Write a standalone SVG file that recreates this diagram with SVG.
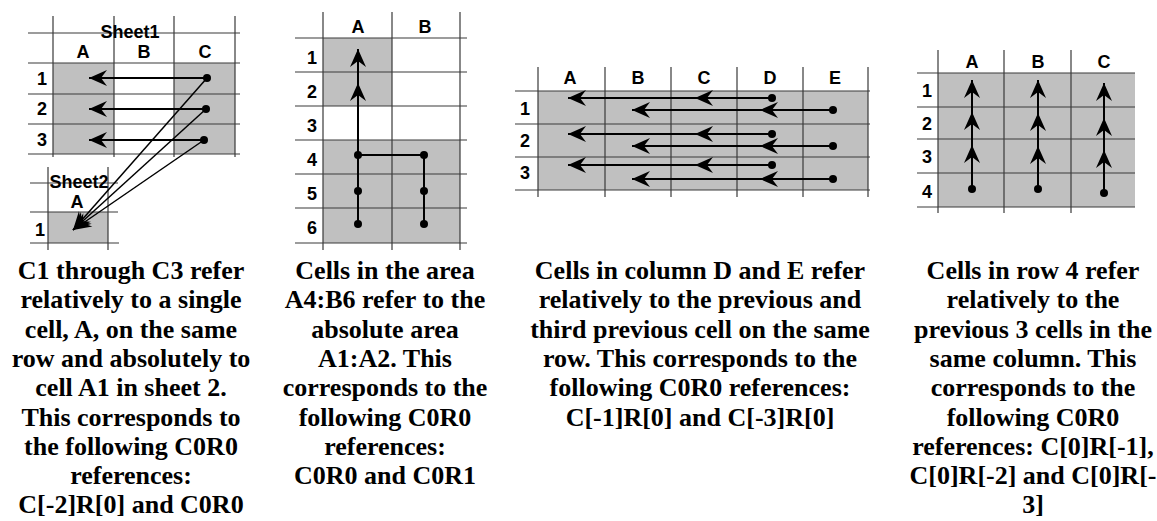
<svg xmlns="http://www.w3.org/2000/svg" width="1157" height="521" viewBox="0 0 1157 521">
<style>
.bg{fill:#ffffff}
.cell{fill:#c0c0c0}
.grid{stroke:#3a3a3a;stroke-width:1.2;fill:none}
.lbl{font-family:"Liberation Sans",Arial,sans-serif;font-weight:bold;font-size:18px;fill:#000;text-anchor:middle}
.cap{font-family:"Liberation Serif","Times New Roman",serif;font-weight:bold;font-size:26px;fill:#000;text-anchor:middle}
.ar{stroke:#000;stroke-width:2;fill:none;marker-end:url(#ah)}
.ard{stroke:#000;stroke-width:1.5;fill:none;marker-end:url(#ah)}
.ln{stroke:#000;stroke-width:2;fill:none}
.dot{fill:#000}
</style>
<defs>
<marker id="ah" markerUnits="userSpaceOnUse" markerWidth="20" markerHeight="18" viewBox="-19 -9 20 18" refX="0" refY="0" orient="auto">
<path d="M0,0 L-18,-8 L-12,0 L-18,8 Z" fill="#000"/>
</marker>
</defs>
<rect class="bg" x="0" y="0" width="1157" height="521"/>

<!-- Panel 1: Sheet1 -->
<g id="sheet1">
<rect class="cell" x="53" y="63" width="61" height="91"/>
<rect class="cell" x="174" y="63" width="61" height="91"/>
<path class="grid" d="M28,33H240M28,63H240M28,94H240M28,124H240M28,154H240M53,16V157M114,16V157M174,16V157M235,16V157"/>
<text class="lbl" x="130" y="38">Sheet1</text>
<text class="lbl" x="83" y="58">A</text>
<text class="lbl" x="144" y="58">B</text>
<text class="lbl" x="205" y="58">C</text>
<text class="lbl" x="42" y="85">1</text>
<text class="lbl" x="42" y="115">2</text>
<text class="lbl" x="42" y="146">3</text>
</g>
<g id="sheet2">
<rect class="cell" x="48" y="212" width="60" height="31"/>
<path class="grid" d="M30,183H118M30,212H118M30,243H119M48,167V250M108,167V250"/>
<text class="lbl" x="79" y="188">Sheet2</text>
<text class="lbl" x="77" y="208">A</text>
<text class="lbl" x="40" y="236">1</text>
</g>

<!-- Panel 2 -->
<g id="panel2">
<rect class="cell" x="323" y="38" width="69" height="68"/>
<rect class="cell" x="323" y="140" width="137" height="103"/>
<path class="grid" d="M295,38H467M295,72H467M295,106H467M295,140H467M295,174H467M295,208H467M295,243H467M323,12V250M392,12V250M460,12V250"/>
<text class="lbl" x="358" y="33">A</text>
<text class="lbl" x="425" y="33">B</text>
<text class="lbl" x="312" y="64">1</text>
<text class="lbl" x="312" y="98">2</text>
<text class="lbl" x="312" y="132">3</text>
<text class="lbl" x="312" y="166">4</text>
<text class="lbl" x="312" y="200">5</text>
<text class="lbl" x="312" y="234">6</text>
</g>

<!-- Panel 3 -->
<g id="panel3">
<rect class="cell" x="538" y="91" width="330" height="99"/>
<path class="grid" d="M515,91H870M515,124H870M515,157H870M515,190H870M538,67V197M605,67V197M671,67V197M737,67V197M803,67V197M868,67V197"/>
<text class="lbl" x="570" y="84">A</text>
<text class="lbl" x="638" y="84">B</text>
<text class="lbl" x="704" y="84">C</text>
<text class="lbl" x="770" y="84">D</text>
<text class="lbl" x="835" y="84">E</text>
<text class="lbl" x="525" y="115">1</text>
<text class="lbl" x="525" y="147">2</text>
<text class="lbl" x="525" y="179">3</text>
</g>

<!-- Panel 4 -->
<g id="panel4">
<rect class="cell" x="938" y="73" width="197" height="134"/>
<path class="grid" d="M917,73H1135M917,107H1135M917,139H1135M917,173H1135M917,207H1135M938,50V213M1004,50V213M1071,50V213"/>
<text class="lbl" x="972" y="68">A</text>
<text class="lbl" x="1038" y="68">B</text>
<text class="lbl" x="1104" y="68">C</text>
<text class="lbl" x="927" y="97">1</text>
<text class="lbl" x="927" y="130">2</text>
<text class="lbl" x="927" y="163">3</text>
<text class="lbl" x="927" y="198">4</text>
</g>

<!-- Connectors -->
<g id="connectors">
<line class="ar" x1="207" y1="78" x2="89" y2="78"/>
<line class="ar" x1="206" y1="109" x2="89" y2="109"/>
<line class="ar" x1="204" y1="140" x2="89" y2="140"/>
<line class="ard" x1="207" y1="78" x2="73" y2="230"/>
<line class="ard" x1="206" y1="109" x2="73" y2="230"/>
<line class="ard" x1="204" y1="140" x2="73" y2="230"/>
<circle class="dot" cx="207" cy="78" r="4"/>
<circle class="dot" cx="206" cy="109" r="4"/>
<circle class="dot" cx="204" cy="140" r="4"/>
<line class="ar" x1="358" y1="224" x2="358" y2="83"/>
<line class="ar" x1="358" y1="83" x2="358" y2="49"/>
<path class="ln" d="M358,155H424V224"/>
<circle class="dot" cx="358" cy="155" r="4"/>
<circle class="dot" cx="358" cy="191" r="4"/>
<circle class="dot" cx="358" cy="224" r="4"/>
<circle class="dot" cx="424" cy="155" r="4"/>
<circle class="dot" cx="424" cy="191" r="4"/>
<circle class="dot" cx="424" cy="224" r="4"/>
<line class="ar" x1="772" y1="98" x2="695" y2="98"/>
<line class="ar" x1="695" y1="98" x2="568" y2="98"/>
<line class="ar" x1="833" y1="110" x2="760" y2="110"/>
<line class="ar" x1="760" y1="110" x2="632" y2="110"/>
<line class="ar" x1="772" y1="134" x2="695" y2="134"/>
<line class="ar" x1="695" y1="134" x2="568" y2="134"/>
<line class="ar" x1="833" y1="146" x2="760" y2="146"/>
<line class="ar" x1="760" y1="146" x2="632" y2="146"/>
<line class="ar" x1="772" y1="165" x2="695" y2="165"/>
<line class="ar" x1="695" y1="165" x2="568" y2="165"/>
<line class="ar" x1="833" y1="179" x2="760" y2="179"/>
<line class="ar" x1="760" y1="179" x2="632" y2="179"/>
<circle class="dot" cx="772" cy="98" r="4"/>
<circle class="dot" cx="833" cy="110" r="4"/>
<circle class="dot" cx="772" cy="134" r="4"/>
<circle class="dot" cx="833" cy="146" r="4"/>
<circle class="dot" cx="772" cy="165" r="4"/>
<circle class="dot" cx="833" cy="179" r="4"/>
<line class="ar" x1="972" y1="189" x2="972" y2="145"/>
<line class="ar" x1="972" y1="145" x2="972" y2="112"/>
<line class="ar" x1="972" y1="112" x2="972" y2="80"/>
<line class="ar" x1="1038" y1="189" x2="1038" y2="146"/>
<line class="ar" x1="1038" y1="146" x2="1038" y2="113"/>
<line class="ar" x1="1038" y1="113" x2="1038" y2="80"/>
<line class="ar" x1="1104" y1="193" x2="1104" y2="150"/>
<line class="ar" x1="1104" y1="150" x2="1104" y2="118"/>
<line class="ar" x1="1104" y1="118" x2="1104" y2="83"/>
<circle class="dot" cx="972" cy="189" r="4"/>
<circle class="dot" cx="1038" cy="189" r="4"/>
<circle class="dot" cx="1104" cy="193" r="4"/>
</g>

<!-- Captions -->
<g id="caption1">
<text class="cap" x="131" y="279">C1 through C3 refer</text>
<text class="cap" x="131" y="308.3">relatively to a single</text>
<text class="cap" x="131" y="337.6">cell, A, on the same</text>
<text class="cap" x="131" y="366.9">row and absolutely to</text>
<text class="cap" x="131" y="396.2">cell A1 in sheet 2.</text>
<text class="cap" x="131" y="425.5">This corresponds to</text>
<text class="cap" x="131" y="454.8">the following C0R0</text>
<text class="cap" x="131" y="484.1">references:</text>
<text class="cap" x="131" y="513.4">C[-2]R[0] and C0R0</text>
</g>
<g id="caption2">
<text class="cap" x="385" y="279">Cells in the area</text>
<text class="cap" x="385" y="308.3">A4:B6 refer to the</text>
<text class="cap" x="385" y="337.6">absolute area</text>
<text class="cap" x="385" y="366.9">A1:A2. This</text>
<text class="cap" x="385" y="396.2">corresponds to the</text>
<text class="cap" x="385" y="425.5">following C0R0</text>
<text class="cap" x="385" y="454.8">references:</text>
<text class="cap" x="385" y="484.1">C0R0 and C0R1</text>
</g>
<g id="caption3">
<text class="cap" x="700" y="279">Cells in column D and E refer</text>
<text class="cap" x="700" y="308.3">relatively to the previous and</text>
<text class="cap" x="700" y="337.6">third previous cell on the same</text>
<text class="cap" x="700" y="366.9">row. This corresponds to the</text>
<text class="cap" x="700" y="396.2">following C0R0 references:</text>
<text class="cap" x="700" y="425.5">C[-1]R[0] and C[-3]R[0]</text>
</g>
<g id="caption4">
<text class="cap" x="1033" y="279">Cells in row 4 refer</text>
<text class="cap" x="1033" y="308.3">relatively to the</text>
<text class="cap" x="1033" y="337.6">previous 3 cells in the</text>
<text class="cap" x="1033" y="366.9">same column. This</text>
<text class="cap" x="1033" y="396.2">corresponds to the</text>
<text class="cap" x="1033" y="425.5">following C0R0</text>
<text class="cap" x="1033" y="454.8">references: C[0]R[-1],</text>
<text class="cap" x="1033" y="484.1">C[0]R[-2] and C[0]R[-</text>
<text class="cap" x="1033" y="513.4">3]</text>
</g>
</svg>
